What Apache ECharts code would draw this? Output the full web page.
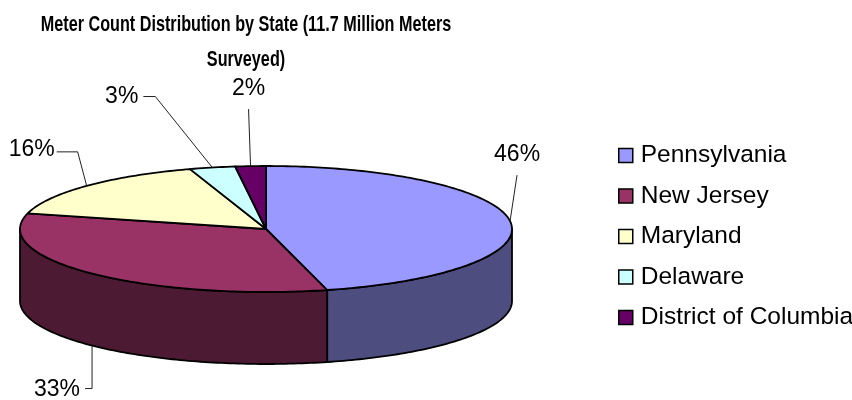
<!DOCTYPE html>
<html>
<head>
<meta charset="utf-8">
<script src="https://cdn.jsdelivr.net/npm/echarts@6/dist/echarts.min.js"></script>
<style>
  html, body { margin: 0; padding: 0; background: #ffffff; }
  #chart { width: 852px; height: 400px; }
</style>
</head>
<body>
<div id="chart"></div>
<script>
// Share of surveyed meters per state (percent)
const states = ['Pennsylvania', 'New Jersey', 'Maryland', 'Delaware', 'District of Columbia'];
const shares = [46, 33, 16, 3, 2];
const shareLabels = ['46%', '33%', '16%', '3%', '2%'];
const chartTitle = 'Meter Count Distribution by State (11.7 Million Meters\nSurveyed)';

// Slice colours: lit top face and shaded outer wall
const topColors = ['#9999FF', '#993366', '#FFFFCC', '#CCFFFF', '#660066'];
const sideColors = ['#4D4D80', '#4D1A33', '#808066', '#668080', '#330033'];

// Projected (tilted) pie: centre, ellipse radii and wall height
const PIE = { cx: 266, cy: 229, rx: 246, ry: 63, depth: 72 };

// Leader routing per slice: which rim the line leaves from, the elbow and
// tail offsets (relative to the previous point) and where the text sits.
const LEADERS = [
  { rim: 'top',    elbow: [7, -46],   tail: [0, 0],   align: 'center', text: [0, -20] },
  { rim: 'bottom', elbow: [0, 43],    tail: [-7, 0],  align: 'right',  text: [-5, 1] },
  { rim: 'top',    elbow: [-9, -34],  tail: [-21, 0], align: 'right',  text: [-2, -2] },
  { rim: 'top',    elbow: [-57, -71], tail: [-12, 0], align: 'right',  text: [-5, 0] },
  { rim: 'top',    elbow: [-2, -57],  tail: [0, 0],   align: 'center', text: [0, -20] }
];

const LABEL_FONT = '23px "Liberation Sans", Arial, sans-serif';
const OUTLINE = { stroke: '#000', lineWidth: 1.8, lineJoin: 'round' };

const total = shares.reduce((a, b) => a + b, 0);
const startAngles = [];
(function () {
  let acc = 0;
  shares.forEach(v => { startAngles.push(acc / total * Math.PI * 2); acc += v; });
})();

// angle measured clockwise from 12 o'clock
function rimPoint(t, dy) {
  return [PIE.cx + PIE.rx * Math.sin(t), PIE.cy - PIE.ry * Math.cos(t) + (dy || 0)];
}
function rimArc(a, b, dy) {
  const n = Math.max(2, Math.ceil((b - a) / (Math.PI / 180)));
  const pts = [];
  for (let i = 0; i <= n; i++) pts.push(rimPoint(a + (b - a) * i / n, dy));
  return pts;
}

function renderSlice(params, api) {
  const i = params.seriesIndex;
  const value = api.value(0);
  const a0 = startAngles[i];
  const a1 = a0 + value / total * Math.PI * 2;
  const children = [];

  // outer wall, only the part facing the viewer
  const lo = Math.max(a0, Math.PI / 2);
  const hi = Math.min(a1, Math.PI * 1.5);
  if (lo < hi) {
    const wall = rimArc(lo, hi, 0).concat(rimArc(lo, hi, PIE.depth).reverse());
    children.push({
      type: 'polygon', z2: 1,
      shape: { points: wall },
      style: Object.assign({ fill: sideColors[i] }, OUTLINE)
    });
  }

  // top face
  const face = [[PIE.cx, PIE.cy]].concat(rimArc(a0, a1, 0));
  children.push({
    type: 'polygon', z2: 10,
    shape: { points: face },
    style: Object.assign({ fill: topColors[i] }, OUTLINE)
  });

  // leader line and percentage label
  const L = LEADERS[i];
  const mid = (a0 + a1) / 2;
  const p0 = rimPoint(mid, L.rim === 'bottom' ? PIE.depth : 0);
  const p1 = [p0[0] + L.elbow[0], p0[1] + L.elbow[1]];
  const p2 = [p1[0] + L.tail[0], p1[1] + L.tail[1]];
  children.push({
    type: 'polyline', z2: 20,
    shape: { points: [p0, p1, p2] },
    style: { stroke: '#222', lineWidth: 1, fill: null }
  });
  children.push({
    type: 'text', z2: 20,
    x: p2[0] + L.text[0], y: p2[1] + L.text[1],
    style: {
      text: shareLabels[i], fill: '#000', font: LABEL_FONT,
      align: L.align, verticalAlign: 'middle'
    }
  });

  return { type: 'group', children: children };
}

const chart = echarts.init(document.getElementById('chart'), null, { renderer: 'canvas' });

const series = states.map((name, i) => ({
  type: 'custom',
  name: name,
  coordinateSystem: 'none',
  renderItem: renderSlice,
  itemStyle: { color: topColors[i] },
  data: [[shares[i]]],
  animation: false,
  silent: true
}));

chart.setOption({
  backgroundColor: '#ffffff',
  animation: false,
  // condensed bold heading, centred over the pie
  graphic: [{
    type: 'text',
    x: 246,
    y: 42,
    scaleX: 0.72,
    silent: true,
    style: {
      text: chartTitle,
      font: 'bold 22.5px "Liberation Sans", Arial, sans-serif',
      lineHeight: 35,
      fill: '#000',
      align: 'center',
      verticalAlign: 'middle'
    }
  }],
  legend: {
    orient: 'vertical',
    left: 613,
    top: 138,
    icon: 'rect',
    itemWidth: 14,
    itemHeight: 14,
    itemGap: 15.5,
    itemStyle: { borderColor: '#000', borderWidth: 1.5 },
    textStyle: {
      fontFamily: '"Liberation Sans", Arial, sans-serif',
      fontSize: 24.5,
      lineHeight: 24,
      color: '#000',
      padding: [0, 0, 0, 3]
    },
    data: states
  },
  series: series
});
</script>
</body>
</html>
